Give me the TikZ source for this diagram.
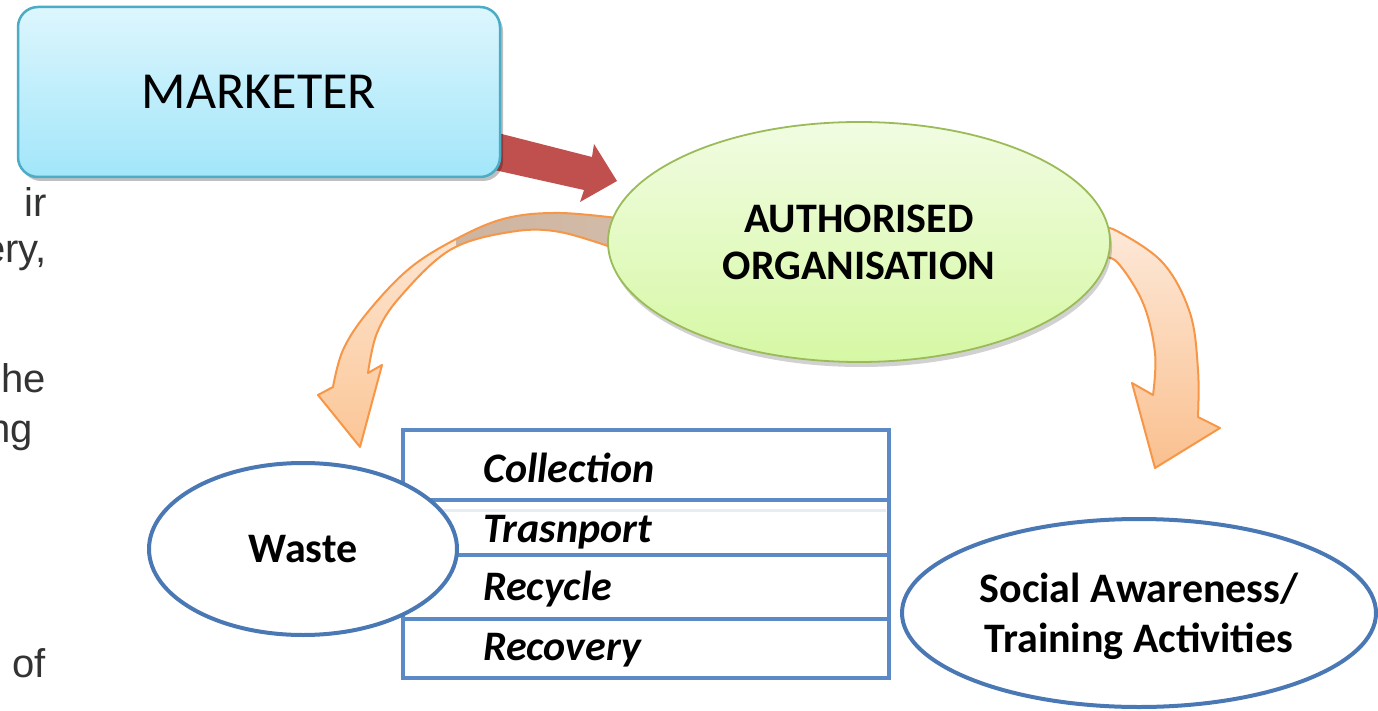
\documentclass[tikz,border=0pt]{standalone}
\usepackage{fontspec}
\setmainfont{Carlito}
\newfontfamily\arialfont{Liberation Sans}
\usetikzlibrary{shapes.geometric,shadows}
\definecolor{mkfillA}{HTML}{DDF6FD}
\definecolor{mkfillB}{HTML}{A2E6FA}
\definecolor{mkline}{HTML}{4BACC6}
\definecolor{redarrow}{HTML}{C0504D}
\definecolor{aofillA}{HTML}{F1FCE2}
\definecolor{aofillB}{HTML}{D6F8A4}
\definecolor{aoline}{HTML}{9BBB59}
\definecolor{orline}{HTML}{F79646}
\definecolor{orfill}{HTML}{FAC08F}
\definecolor{orlight}{HTML}{FDE9D9}
\definecolor{orhead}{HTML}{FBC696}
\definecolor{tanA}{HTML}{C9AF9A}
\definecolor{tanB}{HTML}{D2BBA8}
\definecolor{blueline}{HTML}{4A78B4}
\definecolor{boxline}{HTML}{5B8AC6}
\definecolor{boxfaint}{HTML}{E6EDF5}
\definecolor{greytext}{HTML}{333333}
\newcommand\larrowpath{plot[smooth,tension=0.6] coordinates {(625,219) (560,213) (507,218) (460,237) (410,268) (367,313) (343,350) (333,387)} -- (318,395) -- (360,447) -- (382,365) -- (368,373) -- plot[smooth,tension=0.6] coordinates {(368,373) (377,333) (400,297) (450,250) (510,232) (560,232) (625,252)} -- cycle}
\newcommand\rarrowpath{plot[smooth,tension=0.6] coordinates {(1100,228) (1117,231) (1163,263) (1190,313) (1198,370) (1198,417)} -- (1220,428) -- (1155,468) -- (1132,383) -- (1153,395) -- plot[smooth,tension=0.6] coordinates {(1153,395) (1155,353) (1143,303) (1117,262) (1100,258)} -- cycle}
\tikzset{
  sidetext/.style={anchor=base east, inner sep=0pt, text=greytext, font=\arialfont\fontsize{40}{48}\selectfont},
  mkbox/.style={rectangle, rounded corners=20pt, minimum width=482pt, minimum height=170pt, draw=mkline, line width=2.5pt, top color=mkfillA, bottom color=mkfillB, drop shadow={shadow xshift=3pt, shadow yshift=-4pt, opacity=0.25, fill=black}, font=\fontsize{52}{60}\selectfont},
  aoell/.style={ellipse, minimum width=502pt, minimum height=240pt, inner sep=0pt, draw=aoline, line width=1.8pt, top color=aofillA, bottom color=aofillB, drop shadow={shadow xshift=2pt, shadow yshift=-5pt, opacity=0.18, fill=black}, align=center, font=\bfseries\fontsize{42}{47}\selectfont},
  rowbox/.style={rectangle, draw=boxline, line width=3.5pt, minimum width=486pt, inner sep=0pt},
  rowtext/.style={anchor=base west, inner sep=0pt, font=\bfseries\itshape\fontsize{42}{47}\selectfont},
  plainell/.style={ellipse, draw=blueline, line width=4pt, fill=white, inner sep=0pt, align=center, font=\bfseries\fontsize{42}{50}\selectfont},
  orangestroke/.style={draw=orline, line width=2pt, line join=round}
}
\begin{document}
\begin{tikzpicture}[x=1pt,y=-1pt]
\useasboundingbox (0,0) rectangle (1378,711);
\fill[white] (0,0) rectangle (1378,711);
% cut-off side text
\node[sidetext] (s1) at (47,217) {ir};
\node[sidetext] (s2) at (47,262) {ery,};
\node[sidetext] (s3) at (46,392) {he};
\node[sidetext] (s4) at (33,442) {ng};
\node[sidetext] (s5) at (46,677) {of};
% red block arrow
\fill[redarrow] (490,131) -- (592,157) -- (594,144) -- (617,181) -- (580,202) -- (584,190) -- (490,169) -- cycle;
% marketer box
\node[mkbox] (mk) at (259,92) {MARKETER};
% left curved arrow
\fill[top color=orlight, bottom color=orhead, shading angle=0] \larrowpath;
\begin{scope}
  \clip (456,150) rectangle (700,320);
  \fill[left color=tanA, right color=tanB] \larrowpath;
\end{scope}
\path[orangestroke] \larrowpath;
% right curved arrow
\path[orangestroke, top color=orlight, bottom color=orfill] \rarrowpath;
% authorised organisation
\node[aoell] (ao) at (859,242) {AUTHORISED\\ORGANISATION};
% stack of boxes
\node[rowbox, minimum height=70pt] (r1) at (646,465) {};
\node[rowbox, minimum height=55pt] (r2) at (646,527.5) {};
\node[rowbox, minimum height=64pt] (r3) at (646,587) {};
\node[rowbox, minimum height=59pt] (r4) at (646,648.5) {};
\coordinate (fa) at (406,510);
\coordinate (fb) at (886,510);
\draw[boxfaint, line width=3pt] (fa) -- (fb);
\node[rowtext] (c1) at (483,482) {Collection};
\node[rowtext] (c2) at (483,542) {Trasnport};
\node[rowtext] (c3) at (483,600) {Recycle};
\node[rowtext] (c4) at (483,660) {Recovery};
% waste
\node[plainell, minimum width=308pt, minimum height=172pt] (waste) at (303,549) {Waste};
% social awareness
\node[plainell, minimum width=474pt, minimum height=188pt, text depth=0pt] (soc) at (1139,613) {Social Awareness/\\Training Activities};
\end{tikzpicture}
\end{document}
